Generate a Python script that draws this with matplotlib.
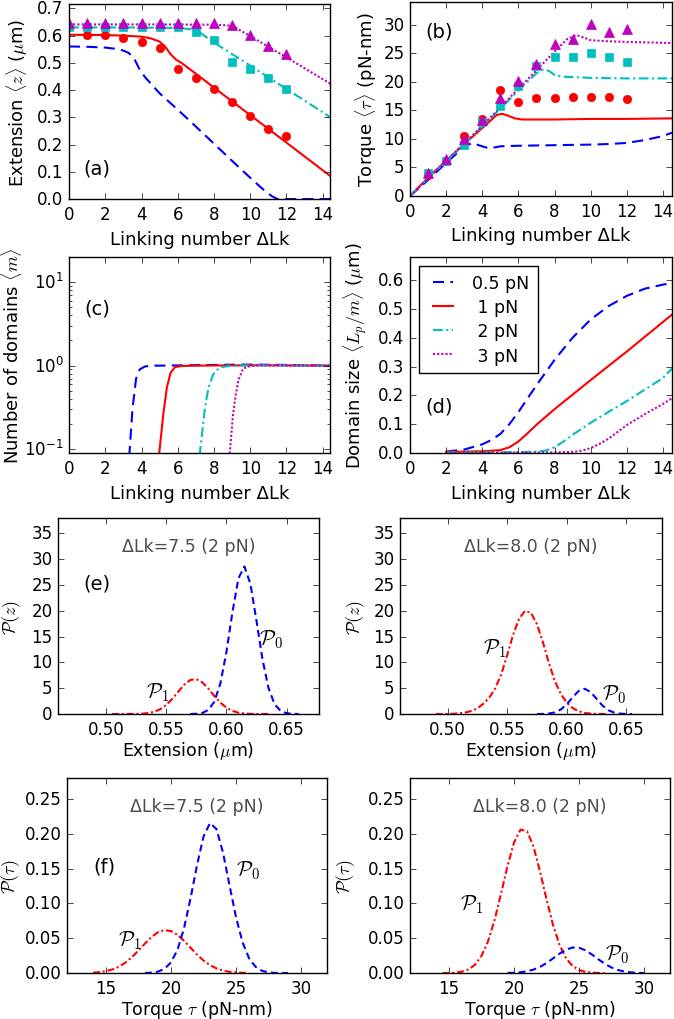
import numpy as np
import matplotlib
matplotlib.use('Agg')
import matplotlib.pyplot as plt

plt.style.use('classic')
plt.rcParams['figure.facecolor'] = 'white'
plt.rcParams['savefig.facecolor'] = 'white'
plt.rcParams['font.family'] = ['DejaVu Sans']
plt.rcParams['mathtext.fontset'] = 'cm'
plt.rcParams['xtick.labelsize'] = 12
plt.rcParams['ytick.labelsize'] = 12
plt.rcParams['axes.labelsize'] = 13

# --- (a) extension vs linking number: theory curves ---
ext_x_05 = [0, 1, 2, 2.5, 3, 3.3, 3.6, 3.9, 4.2, 5, 6, 7, 8, 9, 10, 10.8, 11.2, 11.5, 14.5]
ext_y_05 = [0.560, 0.559, 0.556, 0.552, 0.545, 0.536, 0.515, 0.475, 0.447, 0.388, 0.328,
            0.266, 0.203, 0.140, 0.078, 0.030, 0.010, 0.0, 0.0]
ext_x_1 = [0, 2, 3, 4, 4.5, 5, 5.3, 5.6, 5.9, 6.2, 7, 8, 10, 12, 14.5]
ext_y_1 = [0.603, 0.602, 0.600, 0.596, 0.590, 0.578, 0.560, 0.532, 0.512, 0.500, 0.460,
           0.409, 0.308, 0.207, 0.080]
ext_x_2 = [0, 3, 6, 6.8, 7.2, 7.5, 7.8, 8.2, 9, 10, 12, 14.5]
ext_y_2 = [0.630, 0.630, 0.628, 0.623, 0.612, 0.598, 0.583, 0.566, 0.532, 0.490, 0.404, 0.297]
ext_x_3 = [0, 4, 8, 8.7, 9.1, 9.5, 10, 12, 14.5]
ext_y_3 = [0.641, 0.641, 0.640, 0.638, 0.633, 0.617, 0.598, 0.520, 0.420]

# (a) measured points
lk_pts = [0, 1, 2, 3, 4, 5, 6, 7, 8, 9, 10, 11, 12]
ext_pts_1 = [0.602, 0.602, 0.590, 0.575, 0.553, 0.478, 0.444, 0.403, 0.355, 0.305, 0.257, 0.232]
ext_pts_2 = [0.630, 0.630, 0.630, 0.630, 0.630, 0.630, 0.630, 0.615, 0.583, 0.502, 0.478, 0.444, 0.403]
ext_pts_3 = [0.646, 0.646, 0.646, 0.646, 0.646, 0.646, 0.646, 0.646, 0.646, 0.640, 0.602, 0.563, 0.533]

# --- (b) torque vs linking number ---
tq_x_05 = [0, 1, 2, 3, 3.45, 3.8, 4.2, 4.5, 5, 6, 8, 10, 11, 12, 13, 14, 14.5]
tq_y_05 = [0, 2.8, 5.8, 8.6, 9.3, 8.9, 8.5, 8.4, 8.7, 8.8, 8.9, 9.0, 9.1, 9.3, 9.8, 10.5, 11.1]
tq_x_1 = [0, 1, 2, 3, 4, 4.8, 5.1, 5.4, 5.8, 6.2, 8, 10, 12, 14.5]
tq_y_1 = [0, 3.2, 6.2, 9.1, 11.9, 14.2, 14.4, 14.1, 13.6, 13.4, 13.4, 13.5, 13.5, 13.6]
tq_x_2 = [0, 1, 2, 3, 4, 5, 6, 7, 7.4, 7.7, 8.0, 8.5, 10, 12, 14.5]
tq_y_2 = [0, 3.1, 6.1, 9.1, 12.2, 15.3, 18.5, 21.5, 22.2, 21.9, 21.2, 20.9, 20.7, 20.6, 20.6]
tq_x_3 = [0, 1, 2, 3, 4, 5, 6, 7, 8, 8.7, 9.2, 9.6, 10, 11, 12, 14.5]
tq_y_3 = [0, 3.1, 6.1, 9.2, 12.3, 15.5, 18.8, 22.0, 25.3, 27.5, 28.2, 27.8, 27.3, 27.1, 27.0, 26.8]

tq_pts_1 = [3.6, 6.1, 10.5, 13.5, 18.5, 16.4, 17.2, 17.2, 17.4, 17.4, 17.4, 17.0]
tq_pts_2 = [4.1, 6.1, 8.9, 12.9, 15.7, 19.3, 22.7, 24.3, 24.3, 25.0, 24.3, 23.4]
tq_pts_3 = [4.1, 6.4, 9.9, 13.4, 17.2, 20.1, 23.2, 26.7, 27.5, 30.1, 28.8, 29.2]

# --- (c) number of domains ---
dom_x_05 = [3.25, 3.35, 3.5, 3.7, 3.9, 4.2, 4.6, 5, 8, 10, 12, 14.5]
dom_y_05 = [0.05, 0.1, 0.3, 0.7, 0.9, 0.98, 1.0, 1.0, 1.02, 1.03, 1.02, 1.0]
dom_x_1 = [4.93, 4.98, 5.2, 5.4, 5.6, 5.85, 6.2, 7, 10, 14.5]
dom_y_1 = [0.05, 0.09, 0.26, 0.55, 0.82, 0.96, 0.99, 1.0, 1.01, 1.0]
dom_x_2 = [7.15, 7.22, 7.5, 7.7, 7.95, 8.3, 8.8, 10, 14.5]
dom_y_2 = [0.05, 0.09, 0.31, 0.55, 0.78, 0.95, 0.99, 1.01, 1.0]
dom_x_3 = [8.82, 8.87, 9.05, 9.2, 9.35, 9.6, 10.0, 10.5, 14.5]
dom_y_3 = [0.05, 0.09, 0.26, 0.45, 0.67, 0.92, 0.99, 1.01, 1.0]

# --- (d) domain size ---
size_x_05 = [2, 3, 4, 4.5, 5, 5.5, 6, 7, 8, 9, 10, 11, 12, 13, 14, 14.5]
size_y_05 = [0.005, 0.012, 0.03, 0.045, 0.066, 0.10, 0.142, 0.235, 0.323, 0.40, 0.463, 0.51,
             0.545, 0.570, 0.584, 0.590]
size_x_1 = [2, 4, 5, 5.5, 6, 6.5, 7, 8, 10, 12, 14.5]
size_y_1 = [0.004, 0.006, 0.01, 0.02, 0.04, 0.068, 0.098, 0.152, 0.253, 0.352, 0.48]
size_x_2 = [2, 6, 7, 7.5, 8, 8.5, 9, 10, 11, 12, 13, 14, 14.5]
size_y_2 = [0.002, 0.003, 0.005, 0.008, 0.02, 0.04, 0.063, 0.105, 0.143, 0.18, 0.22, 0.26, 0.293]
size_x_3 = [2, 8, 9, 9.5, 10, 10.5, 11, 12, 13, 14, 14.5]
size_y_3 = [0.001, 0.002, 0.004, 0.008, 0.017, 0.032, 0.05, 0.097, 0.135, 0.17, 0.19]

force_labels = ['0.5 pN', ' 1 pN', ' 2 pN', ' 3 pN']

# --- (e) extension distributions, 2 pN ---
z75_p0_x = np.arange(0.570, 0.6601, 0.005)
z75_p0 = [0.0, 0.05, 0.21, 0.79, 2.39, 5.95, 12.0, 19.7, 26.3, 28.6, 25.2, 18.1, 10.6, 5.03,
          1.94, 0.61, 0.16, 0.03, 0.0]
z75_p1_x = np.arange(0.505, 0.6351, 0.005)
z75_p1 = [0.0, 0.0, 0.0, 0.01, 0.02, 0.07, 0.18, 0.44, 0.94, 1.76, 2.94, 4.35, 5.70, 6.60,
          6.76, 6.13, 4.92, 3.49, 2.21, 1.22, 0.60, 0.26, 0.10, 0.03, 0.01, 0.0, 0.0]
z80_p0_x = np.arange(0.575, 0.6551, 0.005)
z80_p0 = [0.0, 0.02, 0.09, 0.32, 0.87, 1.89, 3.25, 4.47, 4.9, 4.27, 2.97, 1.64, 0.73, 0.26,
          0.07, 0.02, 0.0]
z80_p1_x = np.arange(0.490, 0.6351, 0.005)
z80_p1 = [0.0, 0.0, 0.02, 0.06, 0.15, 0.3, 0.6, 1.1, 2.0, 3.2, 5.0, 7.7, 11.4, 15.4, 18.5,
          20.0, 19.6, 17.4, 13.9, 9.9, 6.4, 3.9, 2.2, 1.15, 0.55, 0.22, 0.08, 0.02, 0.0, 0.0]

# --- (f) torque distributions, 2 pN ---
t75_p0_x = np.arange(18.0, 29.01, 0.5)
t75_p0 = [0.0002, 0.0006, 0.0021, 0.0062, 0.0153, 0.0336, 0.0643, 0.107, 0.155, 0.196,
          0.2154, 0.2067, 0.173, 0.126, 0.0803, 0.0443, 0.0214, 0.0091, 0.0033, 0.0011,
          0.0003, 0.0001, 0.0]
t75_p1_x = np.arange(14.0, 26.01, 0.5)
t75_p1 = [0.0006, 0.0014, 0.0028, 0.0053, 0.0093, 0.0151, 0.023, 0.0325, 0.0425, 0.0518,
          0.0587, 0.0617, 0.0604, 0.0549, 0.0464, 0.0365, 0.0266, 0.018, 0.0114, 0.0067,
          0.0036, 0.0018, 0.0009, 0.0004, 0.0001]
t80_p0_x = np.arange(19.5, 30.01, 0.5)
t80_p0 = [0.0002, 0.0005, 0.0012, 0.0026, 0.005, 0.0089, 0.0144, 0.0211, 0.0279, 0.0336,
          0.0367, 0.0364, 0.0327, 0.0266, 0.0197, 0.0132, 0.008, 0.0044, 0.0022, 0.001,
          0.0004, 0.0001]
t80_p1_x = np.arange(14.5, 27.01, 0.5)
t80_p1 = [0.0001, 0.0002, 0.0008, 0.0021, 0.0053, 0.0119, 0.0247, 0.0455, 0.0758, 0.1138,
          0.1539, 0.1875, 0.206, 0.2038, 0.1817, 0.146, 0.106, 0.0692, 0.0405, 0.0213,
          0.0103, 0.0044, 0.0017, 0.0006, 0.0002, 0.0]

# line styles (classic look)
st_05 = dict(color='b', lw=1.5, dashes=(8, 4.5))
st_1 = dict(color='r', lw=1.5)
st_2 = dict(color='c', lw=1.5, dashes=(7, 2.5, 1.5, 2.5))
st_3 = dict(color='m', lw=1.5, dashes=(1.5, 1.5))
st_p0 = dict(color='b', lw=1.5, dashes=(5, 3))
st_p1 = dict(color='r', lw=1.5, dashes=(5, 2, 1.5, 2))

LK_LABEL = 'Linking number ΔLk'

fig = plt.figure(figsize=(6.74, 10.2), dpi=100)

# ---- (a) ----
ax = fig.add_axes([0.1024, 0.8039, 0.3872, 0.1912])
ax.plot(ext_x_05, ext_y_05, **st_05)
ax.plot(ext_x_1, ext_y_1, **st_1)
ax.plot(ext_x_2, ext_y_2, **st_2)
ax.plot(ext_x_3, ext_y_3, **st_3)
ax.plot(lk_pts[1:], ext_pts_1, 'o', color='r', mec='r', ms=6)
ax.plot(lk_pts, ext_pts_2, 's', color='c', mec='c', ms=5.5)
ax.plot(lk_pts, ext_pts_3, '^', color='m', mec='m', ms=6.5)
ax.set_xlim(0, 14.4)
ax.set_ylim(0, 0.716)
ax.set_xticks(range(0, 15, 2))
ax.set_yticks(np.arange(0, 0.71, 0.1))
ax.set_xlabel(LK_LABEL)
ax.set_ylabel(r'Extension $\langle z\rangle$ ($\mu$m)')
ax.yaxis.set_label_coords(-0.15, 0.5)
ax.text(0.054, 0.13, '(a)', transform=ax.transAxes, fontsize=14)

# ---- (b) ----
ax = fig.add_axes([0.6083, 0.8069, 0.3887, 0.1902])
ax.plot(tq_x_05, tq_y_05, **st_05)
ax.plot(tq_x_1, tq_y_1, **st_1)
ax.plot(tq_x_2, tq_y_2, **st_2)
ax.plot(tq_x_3, tq_y_3, **st_3)
ax.plot(lk_pts[1:], tq_pts_1, 'o', color='r', mec='r', ms=6)
ax.plot(lk_pts[1:], tq_pts_2, 's', color='c', mec='c', ms=5.5)
ax.plot(lk_pts[1:], tq_pts_3, '^', color='m', mec='m', ms=6.5)
ax.set_xlim(0, 14.5)
ax.set_ylim(0, 34)
ax.set_xticks(range(0, 15, 2))
ax.set_yticks(range(0, 31, 5))
ax.set_xlabel(LK_LABEL)
ax.set_ylabel(r'Torque $\langle \tau\rangle$ (pN-nm)')
ax.yaxis.set_label_coords(-0.118, 0.5)
ax.text(0.057, 0.82, '(b)', transform=ax.transAxes, fontsize=14)

# ---- (c) ----
ax = fig.add_axes([0.1024, 0.5549, 0.3872, 0.1922])
ax.plot(dom_x_05, dom_y_05, **st_05)
ax.plot(dom_x_1, dom_y_1, **st_1)
ax.plot(dom_x_2, dom_y_2, **st_2)
ax.plot(dom_x_3, dom_y_3, **st_3)
ax.set_yscale('log')
ax.set_xlim(0, 14.4)
ax.set_ylim(0.09, 20)
ax.set_xticks(range(0, 15, 2))
ax.set_xlabel(LK_LABEL)
ax.set_ylabel(r'Number of domains $\langle m\rangle$')
ax.yaxis.set_label_coords(-0.172, 0.5)
ax.text(0.06, 0.71, '(c)', transform=ax.transAxes, fontsize=14)

# ---- (d) ----
ax = fig.add_axes([0.6083, 0.5549, 0.3887, 0.1922])
lines = []
lines += ax.plot(size_x_05, size_y_05, **st_05)
lines += ax.plot(size_x_1, size_y_1, **st_1)
lines += ax.plot(size_x_2, size_y_2, **st_2)
lines += ax.plot(size_x_3, size_y_3, **st_3)
ax.set_xlim(0, 14.5)
ax.set_ylim(0, 0.68)
ax.set_xticks(range(0, 15, 2))
ax.set_yticks(np.arange(0, 0.61, 0.1))
ax.set_xlabel(LK_LABEL)
ax.set_ylabel(r'Domain size $\langle L_p/m\rangle$ ($\mu$m)')
ax.yaxis.set_label_coords(-0.156, 0.5)
ax.legend(lines, force_labels, loc='upper left', fontsize=12.5, handlelength=1.8,
          handletextpad=0.8, labelspacing=0.35, borderpad=0.5, borderaxespad=0.5,
          fancybox=False, frameon=True)
ax.text(0.057, 0.21, '(d)', transform=ax.transAxes, fontsize=14)


def dist_panel(rect, p0x, p0, p1x, p1, title, xlim, ylim, xticks, yticks, xlabel, ylabel,
               ylab_x, p0_pos, p1_pos, tag=None, tag_pos=None):
    ax = fig.add_axes(rect)
    ax.plot(p1x, p1, **st_p1)
    ax.plot(p0x, p0, **st_p0)
    ax.set_xlim(*xlim)
    ax.set_ylim(*ylim)
    ax.set_xticks(xticks)
    ax.set_yticks(yticks)
    ax.set_xlabel(xlabel, fontsize=12.5, labelpad=1)
    ax.set_ylabel(ylabel)
    ax.yaxis.set_label_coords(ylab_x, 0.5)
    ax.text(0.5, 0.855, title, transform=ax.transAxes, ha='center', va='center',
            color='0.3', fontsize=12.5)
    ax.text(p0_pos[0], p0_pos[1], r'$\mathcal{P}_0$', fontsize=15)
    ax.text(p1_pos[0], p1_pos[1], r'$\mathcal{P}_1$', fontsize=15)
    if tag:
        ax.text(tag_pos[0], tag_pos[1], tag, transform=ax.transAxes, fontsize=14)
    return ax


z_ticks = [0.50, 0.55, 0.60, 0.65]
t_ticks = [15, 20, 25, 30]

# ---- (e) ----
dist_panel([0.0861, 0.2990, 0.3872, 0.1922], z75_p0_x, z75_p0, z75_p1_x, z75_p1,
           'ΔLk=7.5 (2 pN)', (0.46, 0.677), (0, 38), z_ticks, range(0, 36, 5),
           r'Extension ($\mu$m)', r'$\mathcal{P}(z)$', -0.134, (0.627, 13.5), (0.533, 3.3),
           '(e)', (0.096, 0.64))
dist_panel([0.5935, 0.2990, 0.3887, 0.1922], z80_p0_x, z80_p0, z80_p1_x, z80_p1,
           'ΔLk=8.0 (2 pN)', (0.46, 0.68), (0, 38), z_ticks, range(0, 36, 5),
           r'Extension ($\mu$m)', r'$\mathcal{P}(z)$', -0.126, (0.630, 2.8), (0.530, 11.8))

# ---- (f) ----
dist_panel([0.0994, 0.0450, 0.3858, 0.1912], t75_p0_x, t75_p0, t75_p1_x, t75_p1,
           'ΔLk=7.5 (2 pN)', (12, 32), (0, 0.28), t_ticks, np.arange(0, 0.26, 0.05),
           r'Torque $\tau$ (pN-nm)', r'$\mathcal{P}(\tau)$', -0.172, (25.0, 0.140),
           (15.9, 0.040), '(f)', (0.10, 0.52))
dist_panel([0.6083, 0.0450, 0.3858, 0.1912], t80_p0_x, t80_p0, t80_p1_x, t80_p1,
           'ΔLk=8.0 (2 pN)', (12, 32), (0, 0.28), t_ticks, np.arange(0, 0.26, 0.05),
           r'Torque $\tau$ (pN-nm)', r'$\mathcal{P}(\tau)$', -0.204, (27.0, 0.020),
           (15.85, 0.092))

fig.savefig('out.png', dpi=100)
